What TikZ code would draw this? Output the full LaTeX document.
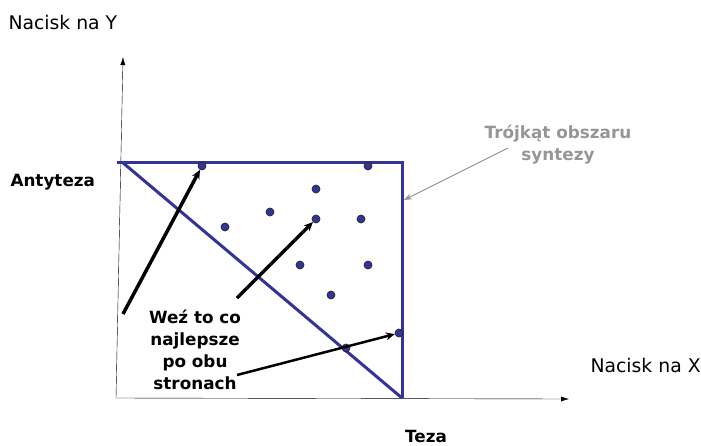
\documentclass[tikz,border=0pt]{standalone}
\usepackage{fontspec}
\setmainfont{DejaVu Sans}
\usepackage{xcolor}
\usetikzlibrary{arrows.meta}
\definecolor{synblue}{RGB}{51,51,153}
\definecolor{syngray}{RGB}{150,150,150}

\begin{document}
\begin{tikzpicture}[x=1pt,y=-1pt,
  font=\fontsize{18.8}{22}\selectfont,
  axis/.style={-{Latex[length=8pt,width=5pt]},thin},
  tri/.style={draw=synblue,line width=3pt},
  dot/.style={circle,draw=black!85,fill=synblue,line width=0.7pt,inner sep=0pt,minimum size=8pt},
  pick/.style={-{Stealth[length=9pt,width=8pt]},line width=3.5pt},
  lbl/.style={font=\bfseries\fontsize{16.8}{22}\selectfont}]
\useasboundingbox (0,0) rectangle (701,445);
% axes
\coordinate (orig) at (116,398);
\coordinate (ytop) at (123,57);
\coordinate (xend) at (569,399);
\draw[axis] (orig) -- (ytop);
\draw[axis] (orig) -- (xend);
% triangle of synthesis
\coordinate (tl) at (117,162);
\coordinate (tr) at (402,162);
\coordinate (br) at (402,398);
\draw[tri] (tl) -- (tr) -- (br);
\draw[tri] (122,162) -- (br);
% dots
\node[dot] (d1) at (202,166) {};
\node[dot] (d2) at (368,166) {};
\node[dot] (d3) at (316,189) {};
\node[dot] (d4) at (270,212) {};
\node[dot] (d5) at (225,227) {};
\node[dot] (d6) at (316,219) {};
\node[dot] (d7) at (361,219) {};
\node[dot] (d8) at (300,265) {};
\node[dot] (d9) at (368,265) {};
\node[dot] (d10) at (331,295) {};
\node[dot] (d11) at (399,333) {};
\node[dot] (d12) at (346,348) {};
% labels
\node[anchor=west] (lbY) at (5,22) {Nacisk na Y};
\node[anchor=west] (lbX) at (587,365) {Nacisk na X};
\node[lbl,anchor=west] (lbAnti) at (7,182) {Antyteza};
\node[lbl,anchor=base,inner sep=0pt] (lbTeza) at (426,442) {Teza};
\node[lbl,text=syngray,align=center] (lbTri) at (558,145) {Trójkąt obszaru\\syntezy};
\node[lbl,align=center] (lbBest) at (195,350) {Weź to co\\najlepsze\\po obu\\stronach};
% arrows
\coordinate (s1) at (123,314);
\coordinate (s2) at (237,298);
\coordinate (s3) at (237,375);
\draw[pick] (s1) -- (d1);
\draw[pick] (s2) -- (d6);
\draw[pick,line width=2.5pt] (s3) -- (d11);
\coordinate (grayS) at (508,148);
\draw[-{Stealth[length=8pt,width=6pt]},syngray,line width=1pt] (grayS) -- (404,200);
\end{tikzpicture}
\end{document}
